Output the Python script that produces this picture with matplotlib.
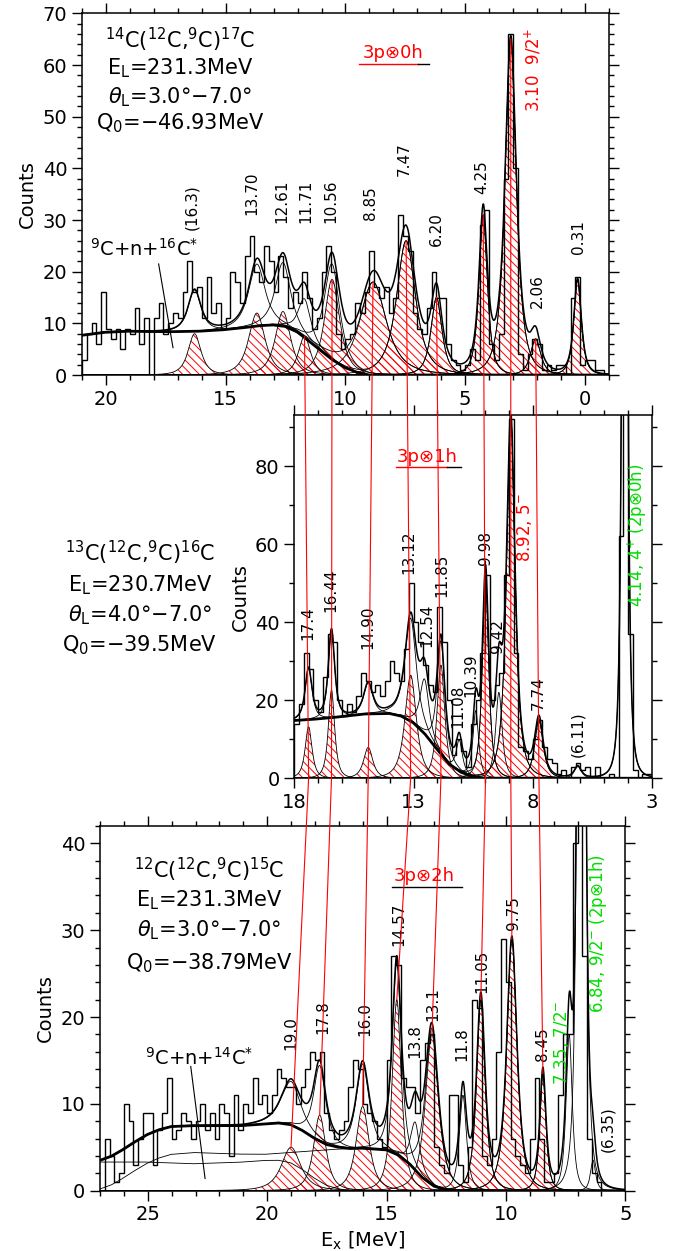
import numpy as np
import matplotlib
matplotlib.use("Agg")
import matplotlib.pyplot as plt
from matplotlib.lines import Line2D
from matplotlib.ticker import MultipleLocator, FixedLocator

plt.rcParams['font.family'] = ['DejaVu Sans']
plt.rcParams['mathtext.fontset'] = 'dejavusans'
plt.rcParams['hatch.linewidth'] = 0.7
plt.rcParams['hatch.color'] = 'red'
plt.rcParams['axes.linewidth'] = 1.1

RED = '#ff0000'
GREEN = '#00dd00'
BIN = 0.2  # MeV per histogram bin

# ---------------- 14C(12C,9C)17C ----------------
# counts per 0.2 MeV bin, from Ex = 21.0 downwards
c17_counts = [3, 8, 10, 6, 16, 9, 7, 9, 5, 9,
              8, 13, 6, 11, 0, 11, 14, 8, 10, 12,
              11, 16, 22, 16, 17, 11, 19, 12, 14, 9,
              11, 20, 18, 14, 23, 27, 20, 18, 25, 22,
              16, 23, 19, 13, 16, 14, 20, 15, 9, 11,
              20, 25, 20, 8, 5, 7, 8, 14, 12, 16,
              24, 17, 15, 17, 12, 15, 31, 27, 24, 12,
              9, 8, 13, 20, 15, 15, 6, 3, 2, 1,
              2, 5, 3, 29, 32, 6, 3, 8, 38, 66,
              40, 4, 1, 4, 7, 6, 1, 2, 1, 2,
              2, 0, 15, 19, 2, 3, 3, 1, 1]
c17_ex_hi = 21.0
c17_peak_ex = [0.31, 2.06, 3.10, 4.25, 6.20, 7.47, 8.85, 10.56, 11.71, 12.61, 13.70, 16.3]
c17_peak_h = [18.5, 7.0, 65.0, 31.0, 15.0, 26.0, 18.0, 18.5, 7.5, 12.3, 12.0, 8.0]
c17_peak_w = [0.37, 0.5, 0.55, 0.41, 0.54, 0.93, 1.3, 0.75, 0.6, 0.75, 0.8, 0.63]
c17_peak_red = [1] * 12
c17_bg_x = [-1, 9, 9.5, 10, 10.5, 11, 11.5, 12, 12.5, 13, 13.5, 14, 15, 16, 17, 18, 19, 20, 21]
c17_bg_y = [0, 0, 0.5, 1.4, 2.8, 4.6, 6.5, 8.3, 9.4, 9.7, 9.6, 9.3, 8.8, 8.5, 8.4, 8.4, 8.5, 8.3, 7.7]
c17_labels = [("(16.3)", 16.4, 28), ("13.70", 13.9, 31), ("12.61", 12.65, 29.5),
              ("11.71", 11.66, 29.5), ("10.56", 10.6, 29.5), ("8.85", 8.95, 30),
              ("7.47", 7.55, 38.5), ("6.20", 6.2, 25), ("4.25", 4.3, 35),
              ("2.06", 2.0, 13), ("0.31", 0.28, 23.5)]

# ---------------- 13C(12C,9C)16C ----------------
c16_counts = [14, 19, 32, 28, 20, 17, 26, 37, 35, 20,
              16, 19, 17, 21, 27, 25, 22, 24, 21, 25,
              30, 27, 25, 33, 50, 40, 35, 29, 24, 22,
              44, 35, 20, 6, 10, 7, 3, 14, 20, 32,
              52, 20, 24, 27, 52, 92, 32, 8, 7, 5,
              10, 15, 8, 5, 4, 1, 2, 0, 3, 4,
              2, 3, 0, 3, 0, 0, 1, 0, 62, 150,
              37, 2, 0, 1, 1]
c16_ex_hi = 18.0
c16_peak_ex = [17.4, 16.44, 14.90, 13.12, 12.54, 11.85, 11.08, 10.39, 9.98, 9.42, 8.92, 7.74, 6.11, 4.14]
c16_peak_h = [13.2, 22.6, 7.9, 26.4, 14.0, 29.0, 8.0, 17.0, 51.0, 22.0, 92.0, 15.0, 3.0, 400.0]
c16_peak_w = [0.34, 0.31, 0.45, 0.56, 0.45, 0.38, 0.3, 0.28, 0.31, 0.32, 0.42, 0.42, 0.35, 0.18]
c16_peak_red = [1, 1, 1, 1, 0, 1, 0, 0, 1, 0, 1, 1, 0, 0]
c16_bg_x = [3, 10, 10.5, 11, 11.5, 12, 12.5, 13, 13.5, 14, 15, 16, 17, 18]
c16_bg_y = [0, 0, 0.4, 1.5, 3.6, 7.3, 11.2, 14.2, 15.9, 16.6, 16.5, 15.8, 15.2, 14.8]
c16_ticks = [18, 13, 8, 3]
c16_labels = [("17.4", 17.44, 35.4), ("16.44", 16.46, 42.6), ("14.90", 14.93, 33.2),
              ("13.12", 13.18, 52.4), ("12.54", 12.45, 33.7), ("11.85", 11.83, 46.5),
              ("11.08", 11.13, 12.8), ("10.39", 10.6, 20.9), ("9.98", 10.0, 54.6),
              ("9.42", 9.48, 32), ("7.74", 7.76, 17.5), ("(6.11)", 6.13, 5.5)]

# ---------------- 12C(12C,9C)15C ----------------
c15_counts = [0, 6, 4, 1, 2, 10, 8, 3, 6, 9,
              9, 3, 7, 9, 13, 6, 7, 9, 8, 6,
              8, 10, 7, 9, 6, 10, 9, 4, 11, 7,
              10, 9, 13, 10, 11, 9, 11, 14, 13, 12,
              12, 10, 12, 14, 16, 15, 16, 9, 7, 6,
              7, 8, 12, 15, 14, 10, 9, 8, 6, 5,
              15, 27, 26, 13, 12, 12, 9, 15, 17, 18,
              5, 3, 2, 11, 11, 3, 1, 5, 22, 21,
              4, 3, 6, 16, 29, 24, 6, 4, 3, 2,
              6, 13, 6, 1, 1, 2, 11, 18, 18, 40,
              60, 27, 6, 2, 1, 0]
c15_ex_hi = 27.0
c15_peak_ex = [19.0, 17.8, 16.0, 14.57, 13.8, 13.1, 11.8, 11.05, 9.75, 8.45, 7.35, 6.84, 6.35]
c15_peak_h = [5.0, 8.7, 9.7, 22.0, 5.5, 18.0, 11.0, 22.0, 29.0, 13.5, 18.0, 300.0, 3.5]
c15_peak_w = [0.95, 0.6, 0.64, 0.45, 0.45, 0.64, 0.35, 0.42, 0.5, 0.3, 0.3, 0.2, 0.25]
c15_peak_red = [1, 1, 1, 1, 0, 1, 0, 1, 1, 1, 0, 0, 0]
c15_bgA_x = [5, 16.5, 17, 17.5, 18, 18.5, 19, 19.5, 20, 21, 23, 25, 27]
c15_bgA_y = [0, 0, 0.2, 0.6, 1.4, 2.4, 3.2, 3.5, 3.5, 3.3, 3.1, 3.3, 3.3]
c15_bgB_x = [5, 12, 12.5, 13, 13.5, 14, 14.5, 15, 16, 17, 18, 19, 20, 21, 22, 23, 24, 24.5, 25, 25.5, 26, 26.5, 27]
c15_bgB_y = [0, 0, 0.1, 0.5, 1.5, 3.0, 4.1, 4.7, 4.9, 4.8, 4.6, 4.4, 4.2, 4.2, 4.3, 4.4, 4.2, 3.8, 3.2, 2.4, 1.5, 0.7, 0.2]
c15_labels = [("19.0", 19.0, 16.2), ("17.8", 17.65, 18), ("16.0", 15.9, 17.8),
              ("14.57", 14.5, 28.2), ("13.8", 13.8, 15.3), ("13.1", 13.05, 19.5),
              ("11.8", 11.85, 14.9), ("11.05", 11.03, 22.8), ("9.75", 9.7, 30),
              ("8.45", 8.46, 14.9), ("(6.35)", 5.75, 4.5)]

# states linked across the three spectra
chain_top = [11.71, 10.56, 8.85, 7.47, 6.20, 4.25, 3.10, 2.06]
chain_mid = [17.4, 16.44, 14.90, 13.12, 11.85, 9.98, 8.92, 7.74]
chain_bot = [19.0, 17.8, 16.0, 14.57, 13.1, 11.05, 9.75, 8.45]


def peak(x, e, h, fwhm):
    w = fwhm / 1.533
    return h / (1 + ((x - e) / w) ** 2) ** 1.5


def draw_panel(ax, counts, ex_hi, pe, ph, pw, pred, bgs, xlim, ylim):
    x = np.linspace(min(xlim), max(xlim), 4000)
    comps = [np.interp(x, bx, by) for bx, by in bgs]
    bg = np.sum(comps, axis=0)
    peaks = [peak(x, e, h, w) for e, h, w in zip(pe, ph, pw)]
    for p, red in zip(peaks, pred):
        if red:
            ax.fill_between(x, 0, p, facecolor='none', edgecolor=RED,
                            hatch='\\\\\\\\', linewidth=0)
            ax.plot(x, p, color='k', lw=0.6)
        ax.plot(x, p + bg, color='k', lw=0.6)
    if len(comps) > 1:
        for c in comps:
            ax.plot(x, c, color='k', lw=0.6)
    ax.plot(x, bg, color='k', lw=2.0)
    ax.plot(x, bg + np.sum(peaks, axis=0), color='k', lw=1.1)
    n = len(counts)
    edges = ex_hi - BIN * np.arange(n + 1)
    ax.stairs(np.array(counts)[::-1], edges[::-1], color='k', lw=1.0)
    ax.set_xlim(*xlim)
    ax.set_ylim(*ylim)
    ax.set_ylabel('Counts', fontsize=14)
    ax.tick_params(which='both', direction='out', top=True, right=True, labelsize=14, width=1)
    ax.tick_params(which='major', length=7)
    ax.tick_params(which='minor', length=3.5)


def put_labels(ax, labels, size=11, color='k'):
    for t, e, y in labels:
        ax.text(e, y, t, rotation=90, ha='center', va='bottom', fontsize=size, color=color)


fig = plt.figure(figsize=(6.86, 12.51), dpi=100)
ax1 = fig.add_axes([0.1195, 0.7002, 0.7682, 0.2891])
ax2 = fig.add_axes([0.4290, 0.3779, 0.5214, 0.2904])
ax3 = fig.add_axes([0.1458, 0.0482, 0.7657, 0.2915])

# top panel
draw_panel(ax1, c17_counts, c17_ex_hi, c17_peak_ex, c17_peak_h, c17_peak_w, c17_peak_red,
           [(c17_bg_x, c17_bg_y)], (21, -1), (0, 70))
ax1.xaxis.set_major_locator(MultipleLocator(5))
ax1.xaxis.set_minor_locator(MultipleLocator(1))
ax1.yaxis.set_major_locator(MultipleLocator(10))
ax1.yaxis.set_minor_locator(MultipleLocator(2))
put_labels(ax1, c17_labels)
ax1.text(2.15, 51, '3.10  9/2$^{+}$', rotation=90, ha='center', va='bottom', fontsize=12, color=RED)
ax1.text(8.0, 62.3, '3p⊗0h', ha='center', va='center', fontsize=13, color=RED)
ax1.plot([9.42, 6.99], [60.3, 60.3], color=RED, lw=1.0)
ax1.plot([6.99, 6.53], [60.3, 60.3], color='k', lw=1.0)
ax1.text(18.4, 24.5, '$^{9}$C+n+$^{16}$C$^{*}$', ha='center', va='center', fontsize=14)
ax1.plot([17.8, 17.2], [21.5, 5.3], color='k', lw=0.8)
for t, y in [('$^{14}$C($^{12}$C,$^{9}$C)$^{17}$C', 0.926), ('E$_{\\rm L}$=231.3MeV', 0.849),
             ('$\\theta_{\\rm L}$=3.0°−7.0°', 0.769), ('Q$_{0}$=−46.93MeV', 0.697)]:
    ax1.text(0.186, y, t, transform=ax1.transAxes, ha='center', va='center', fontsize=15)

# middle panel
draw_panel(ax2, c16_counts, c16_ex_hi, c16_peak_ex, c16_peak_h, c16_peak_w, c16_peak_red,
           [(c16_bg_x, c16_bg_y)], (18, 3), (0, 93.1))
ax2.xaxis.set_major_locator(FixedLocator(c16_ticks))
ax2.xaxis.set_minor_locator(MultipleLocator(1))
ax2.yaxis.set_major_locator(MultipleLocator(20))
ax2.yaxis.set_minor_locator(MultipleLocator(10))
put_labels(ax2, c16_labels)
ax2.text(8.36, 55.4, '8.92, 5$^{-}$', rotation=90, ha='center', va='bottom', fontsize=12, color=RED)
ax2.text(3.6, 43.9, '4.14, 4$^{+}$ (2p⊗0h)', rotation=90, ha='center', va='bottom', fontsize=12, color=GREEN)
ax2.text(12.41, 82.3, '3p⊗1h', ha='center', va='center', fontsize=13, color=RED)
ax2.plot([13.74, 11.58], [79.7, 79.7], color=RED, lw=1.0)
ax2.plot([11.58, 11.02], [79.7, 79.7], color='k', lw=1.0)
for t, y in [('$^{13}$C($^{12}$C,$^{9}$C)$^{16}$C', 0.558), ('E$_{\\rm L}$=230.7MeV', 0.532),
             ('$\\theta_{\\rm L}$=4.0°−7.0°', 0.508), ('Q$_{0}$=−39.5MeV', 0.484)]:
    fig.text(0.204, y, t, ha='center', va='center', fontsize=15)

# bottom panel
draw_panel(ax3, c15_counts, c15_ex_hi, c15_peak_ex, c15_peak_h, c15_peak_w, c15_peak_red,
           [(c15_bgA_x, c15_bgA_y), (c15_bgB_x, c15_bgB_y)], (27, 5), (0, 42))
ax3.xaxis.set_major_locator(MultipleLocator(5))
ax3.xaxis.set_minor_locator(MultipleLocator(1))
ax3.yaxis.set_major_locator(MultipleLocator(10))
ax3.yaxis.set_minor_locator(MultipleLocator(2))
ax3.set_xlabel('E$_{\\rm x}$ [MeV]', fontsize=14)
put_labels(ax3, c15_labels)
ax3.text(7.67, 12.2, '7.35, 7/2$^{-}$', rotation=90, ha='center', va='bottom', fontsize=12, color=GREEN)
ax3.text(6.13, 20.5, '6.84, 9/2$^{-}$ (2p⊗1h)', rotation=90, ha='center', va='bottom', fontsize=12, color=GREEN)
ax3.text(13.42, 36.2, '3p⊗2h', ha='center', va='center', fontsize=13, color=RED)
ax3.plot([14.79, 11.86], [35.0, 35.0], color='k', lw=1.0)
ax3.text(22.85, 15.3, '$^{9}$C+n+$^{14}$C$^{*}$', ha='center', va='center', fontsize=14)
ax3.plot([23.2, 22.6], [14.3, 1.4], color='k', lw=0.8)
for t, y in [('$^{12}$C($^{12}$C,$^{9}$C)$^{15}$C', 0.879), ('E$_{\\rm L}$=231.3MeV', 0.797),
             ('$\\theta_{\\rm L}$=3.0°−7.0°', 0.715), ('Q$_{0}$=−38.79MeV', 0.624)]:
    ax3.text(0.208, y, t, transform=ax3.transAxes, ha='center', va='center', fontsize=15)

# red lines linking analogous states
inv = fig.transFigure.inverted()


def to_fig(ax, x, y):
    return inv.transform(ax.transData.transform((x, y)))


for et, em, eb in zip(chain_top, chain_mid, chain_bot):
    p1 = to_fig(ax1, et, c17_peak_h[c17_peak_ex.index(et)])
    p2 = to_fig(ax2, em, 0)
    p3 = to_fig(ax3, eb, c15_peak_h[c15_peak_ex.index(eb)])
    fig.add_artist(Line2D([p1[0], p2[0], p3[0]], [p1[1], p2[1], p3[1]],
                          color=RED, lw=0.8, transform=fig.transFigure))

fig.savefig('out.png', dpi=100)
